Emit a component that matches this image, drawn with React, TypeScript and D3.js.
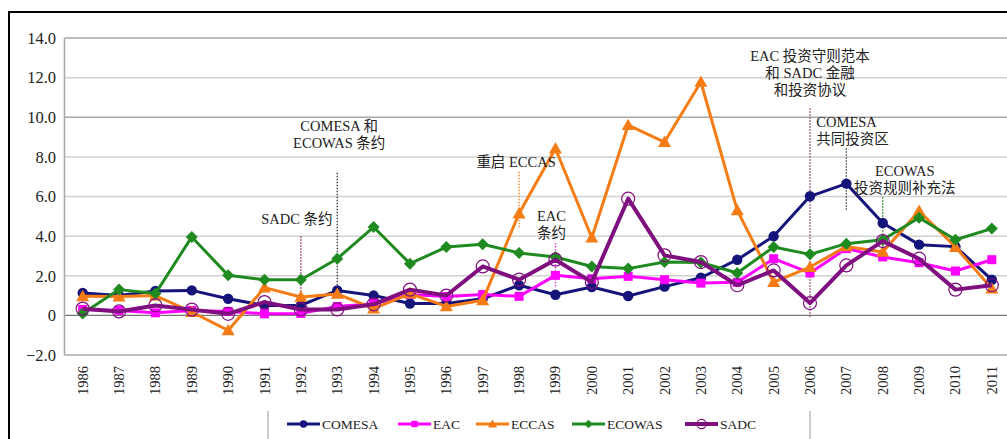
import React from "react";
import * as d3 from "d3";

const years = [
  "1986", "1987", "1988", "1989", "1990", "1991", "1992", "1993", "1994", "1995", "1996", "1997", "1998",
  "1999", "2000", "2001", "2002", "2003", "2004", "2005", "2006", "2007", "2008", "2009", "2010", "2011",
];

const comesa = [1.13, 1.0, 1.23, 1.26, 0.84, 0.5, 0.5, 1.26, 1.0, 0.6, 0.6, 0.84, 1.52, 1.04, 1.43, 0.98, 1.45, 1.9, 2.81, 3.99, 6.01, 6.65, 4.66, 3.57, 3.47, 1.8];
const eac = [0.3, 0.25, 0.13, 0.25, 0.2, 0.08, 0.1, 0.45, 0.59, 1.05, 0.95, 1.05, 0.96, 2.02, 1.85, 1.97, 1.8, 1.63, 1.67, 2.86, 2.14, 3.37, 2.95, 2.66, 2.24, 2.81];
const eccas = [0.96, 0.95, 1.0, 0.17, -0.76, 1.4, 0.93, 1.08, 0.34, 1.1, 0.45, 0.76, 5.14, 8.42, 3.92, 9.6, 8.75, 11.78, 5.3, 1.68, 2.44, 3.48, 3.2, 5.27, 3.45, 1.35];
const ecowas = [0.1, 1.3, 1.1, 3.96, 2.02, 1.8, 1.8, 2.86, 4.46, 2.61, 3.45, 3.59, 3.15, 2.95, 2.47, 2.36, 2.69, 2.67, 2.14, 3.45, 3.08, 3.62, 3.82, 4.93, 3.82, 4.38];
const sadc = [0.34, 0.2, 0.5, 0.29, 0.08, 0.67, 0.3, 0.3, 0.56, 1.3, 1.0, 2.47, 1.8, 2.81, 1.68, 5.89, 3.03, 2.69, 1.52, 2.27, 0.62, 2.52, 3.75, 2.86, 1.3, 1.52];

const yTicks = [-2, 0, 2, 4, 6, 8, 10, 12, 14];

const seriesNames = ["COMESA", "EAC", "ECCAS", "ECOWAS", "SADC"];

// annotations: year of the dotted line, its value range, text lines
const notes = [
  { year: "1992", from: 4.0, to: 0.9, color: "#8b2252", lines: ["SADC 条约"], dx: -4, top: 4.6, anchor: "middle" },
  { year: "1993", from: 7.2, to: 1.3, color: "#333", lines: ["COMESA 和", "ECOWAS 条约"], dx: 2, top: 9.3, anchor: "middle" },
  { year: "1998", from: 7.25, to: 4.4, color: "#f08020", lines: ["重启 ECCAS"], dx: -3, top: 7.48, anchor: "middle" },
  { year: "1999", from: 3.65, to: 1.4, color: "#e040e0", lines: ["EAC", "条约"], dx: -4, top: 4.75, anchor: "middle" },
  { year: "2006", from: 10.45, to: -0.1, color: "#7a3060", lines: ["EAC 投资守则范本", "和 SADC 金融", "和投资协议"], dx: 0, top: 12.83, anchor: "middle" },
  { year: "2007", from: 8.43, to: 5.3, color: "#444", lines: ["COMESA", "共同投资区"], dx: -30, top: 9.5, anchor: "start" },
  { year: "2008", from: 5.96, to: 3.1, color: "#1e7a1e", lines: ["ECOWAS", "投资规则补充法"], dx: 22, top: 7.02, anchor: "middle" },
];

const colors: Record<string, string> = {
  COMESA: "#14147a",
  EAC: "#ff00ff",
  ECCAS: "#f57c14",
  ECOWAS: "#1f8a1f",
  SADC: "#7f0f7f",
};

const FONT = "'Liberation Serif', 'Times New Roman', 'Noto Sans CJK SC', serif";

function Marker({ name, x, y, s = 1 }: { name: string; x: number; y: number; s?: number }) {
  const c = colors[name];
  if (name === "COMESA") return <circle cx={x} cy={y} r={5.2 * s} fill={c} />;
  if (name === "EAC") return <rect x={x - 4.5 * s} y={y - 4.5 * s} width={9 * s} height={9 * s} fill={c} />;
  if (name === "ECCAS") {
    const r = 6.5 * s;
    return <path d={`M${x},${y - r}L${x + r},${y + r * 0.75}L${x - r},${y + r * 0.75}Z`} fill={c} />;
  }
  if (name === "ECOWAS") {
    const r = 6 * s;
    return <path d={`M${x},${y - r}L${x + r},${y}L${x},${y + r}L${x - r},${y}Z`} fill={c} />;
  }
  return <circle cx={x} cy={y} r={6.5 * s} fill="none" stroke={c} strokeWidth={1.2} />;
}

export default function App() {
  const W = 1007;
  const H = 439;
  const left = 64.5;
  const right = 1010;
  const top = 38;
  const bottom = 355;

  const x = d3.scalePoint<string>().domain(years).range([left, right]).padding(0.5);
  const y = d3.scaleLinear().domain([-2, 14]).range([bottom, top]);

  const data: Record<string, number[]> = { COMESA: comesa, EAC: eac, ECCAS: eccas, ECOWAS: ecowas, SADC: sadc };
  const line = d3
    .line<number>()
    .x((_, i) => x(years[i]) as number)
    .y((d) => y(d));

  const legendX = [287, 398, 476, 572, 685];

  return (
    <svg
      width={W}
      height={H}
      style={{ position: "absolute", left: 0, top: 0, background: "#fff" }}
      fontFamily={FONT}
    >
      <rect x={9} y={12} width={W + 20} height={H + 20} fill="#fff" stroke="#000" strokeWidth={2} />

      {/* grid */}
      {yTicks.map((t) => (
        <g key={t}>
          <line
            x1={left}
            x2={right}
            y1={y(t)}
            y2={y(t)}
            stroke={t === 0 ? "#777" : t === -2 || t === 14 || t === 10 ? "#a8a8a8" : "#d0d0d0"}
            strokeWidth={t === 0 ? 1.2 : 1.5}
          />
          <text x={56} y={y(t)} dy="0.35em" textAnchor="end" fontSize={16.5} fill="#222">
            {t === 0 ? "0" : d3.format(".1f")(t)}
          </text>
        </g>
      ))}
      <line x1={left} x2={left} y1={top} y2={bottom} stroke="#a8a8a8" strokeWidth={1.5} />

      {/* x labels */}
      {years.map((yr) => (
        <text
          key={yr}
          transform={`translate(${(x(yr) as number) + 5},${366}) rotate(-90)`}
          textAnchor="end"
          fontSize={14.5}
          fill="#222"
        >
          {yr}
        </text>
      ))}

      {/* annotation dotted lines */}
      {notes.map((n) => (
        <line
          key={n.year + "l"}
          x1={(x(n.year) as number)}
          x2={(x(n.year) as number)}
          y1={y(n.from)}
          y2={y(n.to)}
          stroke={n.color}
          strokeWidth={1.3}
          strokeDasharray="1.5 1.5"
        />
      ))}

      {/* series */}
      {seriesNames.map((name) => (
        <g key={name}>
          <path
            d={line(data[name]) as string}
            fill="none"
            stroke={colors[name]}
            strokeWidth={name === "SADC" ? 4 : 3}
            strokeLinejoin="round"
          />
          {data[name].map((v, i) => (
            <Marker key={i} name={name} x={x(years[i]) as number} y={y(v)} />
          ))}
        </g>
      ))}

      {/* annotation text */}
      {notes.map((n) => (
        <text
          key={n.year + "t"}
          x={(x(n.year) as number) + n.dx}
          y={y(n.top)}
          textAnchor={n.anchor}
          fontSize={14.5}
          fill="#222"
        >
          {n.lines.map((l, i) => (
            <tspan key={i} x={(x(n.year) as number) + n.dx} dy={i === 0 ? 0 : 16.8}>
              {l}
            </tspan>
          ))}
        </text>
      ))}

      {/* legend */}
      <line x1={268} x2={268} y1={411} y2={H} stroke="#aaa" strokeWidth={1.2} />
      <line x1={810} x2={810} y1={411} y2={H} stroke="#aaa" strokeWidth={1.2} />
      {seriesNames.map((name, i) => (
        <g key={name}>
          <line x1={legendX[i]} x2={legendX[i] + 33} y1={424} y2={424} stroke={colors[name]} strokeWidth={name === "SADC" ? 4 : 3} />
          <Marker name={name} x={legendX[i] + 16.5} y={424} s={0.7} />
          <text x={legendX[i] + 35} y={424} dy="0.35em" fontSize={13.5} fill="#222">
            {name}
          </text>
        </g>
      ))}
    </svg>
  );
}
